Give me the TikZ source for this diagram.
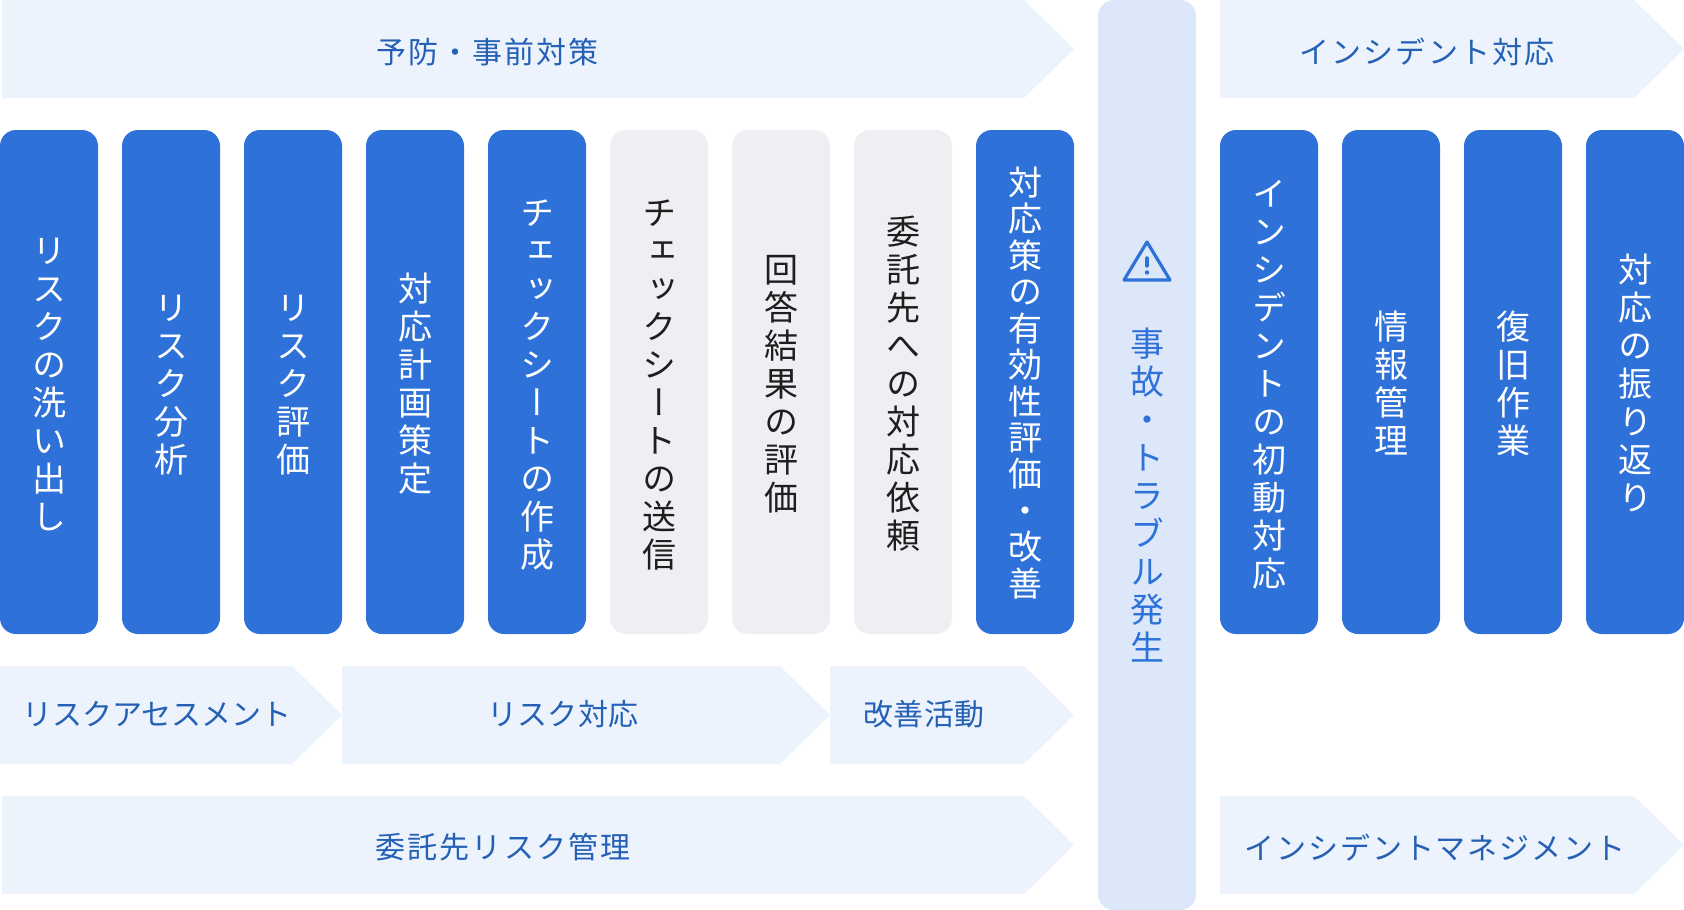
\documentclass[tikz,border=0pt]{standalone}
\usepackage{fontspec}
\usetikzlibrary{positioning}
\newfontfamily\jpfont{Noto Sans CJK JP}
\newfontfamily\jpvertfont[Vertical=Alternates]{Noto Sans CJK JP}
\definecolor{stepblue}{HTML}{2E71D9}
\definecolor{stepgrey}{HTML}{EDEFF2}
\definecolor{bandblue}{HTML}{ECF3FC}
\definecolor{barblue}{HTML}{DCE8F9}
\definecolor{labelblue}{HTML}{2460B5}
\definecolor{inkgrey}{HTML}{1E1E1E}
\makeatletter
\newcommand{\vertstack}[2][38]{%
    \vbox{\offinterlineskip\jpvertfont\fontsize{34}{38}\selectfont
    \kern7pt
    \@tfor\ch:=#2\do{\hbox to 50pt{\hss\vrule height \dimexpr#1pt-8pt\relax\space depth 8pt width 0pt\ch\hss}}}}
\makeatother
\newcommand{\spaced}[2]{{\addfontfeature{LetterSpace=#1}#2}}

\begin{document}
\begin{tikzpicture}[x=1pt,y=-1pt]
    \tikzset{
        stepbox/.style={rounded corners=16pt, inner sep=0pt, outer sep=0pt, minimum width=98pt, minimum height=504pt},
        doneby/.style={stepbox, fill=stepblue, text=white},
        sentby/.style={stepbox, fill=stepgrey, text=inkgrey},
        bandtext/.style={text=labelblue, inner sep=0pt, font=\jpfont\fontsize{30}{34}\selectfont}
    }
    \useasboundingbox (0,0) rectangle (1684,910);

    % draw the arrow bands
    \foreach \xa/\xb/\ya in {2/1074/0, 1220/1684/0, 0/342/666, 342/830/666, 830/1074/666, 2/1074/796, 1220/1684/796}
        \fill[bandblue] (\xa,\ya) -- (\xb-50,\ya) -- (\xb,\ya+49) -- (\xb-50,\ya+98) -- (\xa,\ya+98) -- cycle;

    % band labels
    \node[bandtext] (prevent) at (487.6,52) {\spaced{7}{予防・事前対策}};
    \node[bandtext] (incident) at (1427,52) {\spaced{7}{インシデント対応}};
    \node[bandtext] (assess) at (156.7,714) {\spaced{0}{リスクアセスメント}};
    \node[bandtext] (respond) at (563,714) {\spaced{1}{リスク対応}};
    \node[bandtext] (improve) at (924,714) {\spaced{1.5}{改善活動}};
    \node[bandtext] (vendor) at (503,847) {\spaced{7}{委託先リスク管理}};
    \node[bandtext] (manage) at (1435,848) {\spaced{6.5}{インシデントマネジメント}};

    % left columns
    \node[doneby, anchor=north west] (col1) at (0,130) {\vertstack{リスクの洗い出し}};
    \node[doneby, right=24pt of col1] (col2) {\vertstack{リスク分析}};
    \node[doneby, right=24pt of col2] (col3) {\vertstack{リスク評価}};
    \node[doneby, right=24pt of col3] (col4) {\vertstack{対応計画策定}};
    \node[doneby, right=24pt of col4] (col5) {\vertstack{チェックシートの作成}};
    \node[sentby, right=24pt of col5] (col6) {\vertstack{チェックシートの送信}};
    \node[sentby, right=24pt of col6] (col7) {\vertstack{回答結果の評価}};
    \node[sentby, right=24pt of col7] (col8) {\vertstack{委託先への対応依頼}};
    \node[doneby, right=24pt of col8] (col9) {\vertstack[36.2]{対応策の有効性評価・改善}};

    % centre bar
    \node[anchor=north west, fill=barblue, rounded corners=16pt, inner sep=0pt, outer sep=0pt, minimum width=98pt, minimum height=910pt] (bar) at (1098,0) {};
    \node[text=stepblue, inner sep=0pt] (accident) at (1147,494) {\vertstack{事故・トラブル発生}};

    % warning sign
    \draw[stepblue, line width=3.2pt, line join=round] (1147,242) -- (1170,280) -- (1124,280) -- cycle;
    \draw[stepblue, line width=3.4pt, line cap=round] (1147,258) -- (1147,266);
    \fill[stepblue] (1147,272.5) circle (2.2pt);

    % right columns
    \node[doneby, anchor=north west] (col10) at (1220,130) {\vertstack{インシデントの初動対応}};
    \node[doneby, right=24pt of col10] (col11) {\vertstack{情報管理}};
    \node[doneby, right=24pt of col11] (col12) {\vertstack{復旧作業}};
    \node[doneby, right=24pt of col12] (col13) {\vertstack{対応の振り返り}};
\end{tikzpicture}
\end{document}
